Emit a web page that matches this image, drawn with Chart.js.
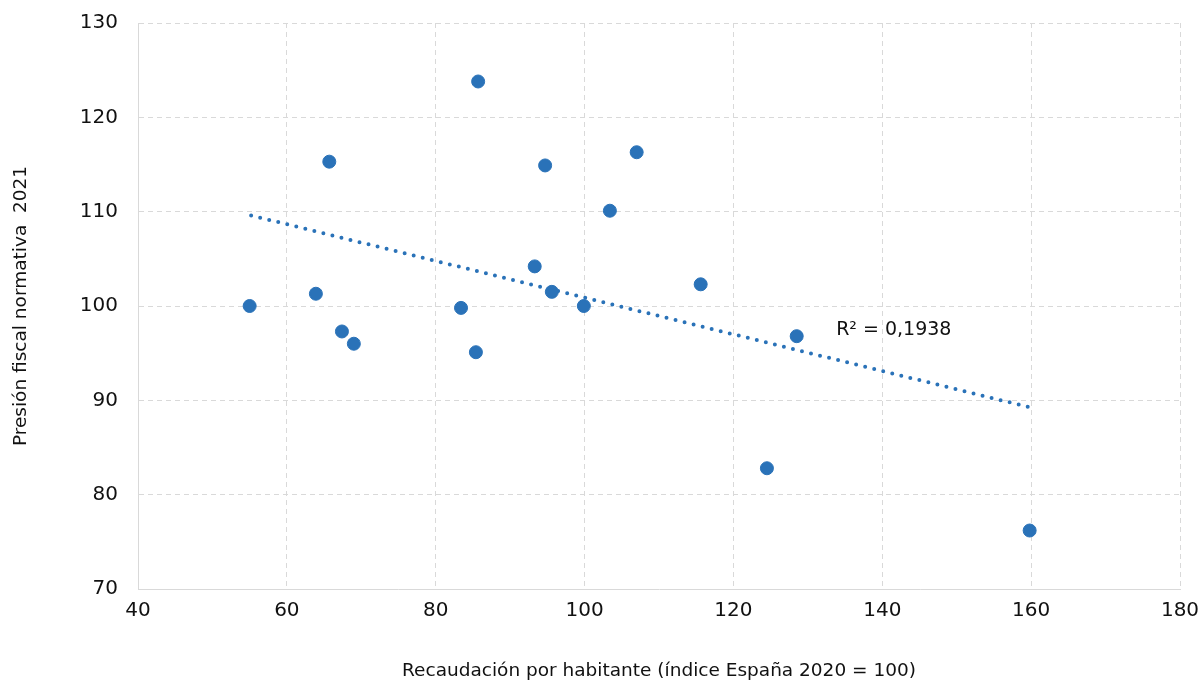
<!DOCTYPE html>
<html>
<head>
<meta charset="utf-8">
<script src="https://cdn.jsdelivr.net/npm/chart.js@4.4.1/dist/chart.umd.min.js"></script>
<style>
  html, body { margin: 0; padding: 0; background: #fff; }
  #wrap { width: 1201px; height: 682px; }
</style>
</head>
<body>
<div id="wrap"><canvas id="c" width="1201" height="682"></canvas></div>
<script>
// Recaudación por habitante (x) vs presión fiscal normativa (y)
const recaudacion = [55.0, 63.9, 65.7, 67.4, 69.0, 83.4, 85.4, 85.7, 93.3, 94.7, 95.6, 99.9, 103.4, 107.0, 115.6, 124.5, 128.5, 159.8];
const presion = [100.0, 101.3, 115.3, 97.3, 96.0, 99.8, 95.1, 123.8, 104.2, 114.9, 101.5, 100.0, 110.1, 116.3, 102.3, 82.8, 96.8, 76.2];

// trend line end points
const trendX = [55.2, 159.6];
const trendY = [109.6, 89.3];
const r2Label = 'R² = 0,1938';

const xTicks = [40, 60, 80, 100, 120, 140, 160, 180];
const yTicks = [70, 80, 90, 100, 110, 120, 130];

const blue = '#2a72b8';
const gridColor = '#d9d9d9';
const font = "'DejaVu Sans', sans-serif";

const r2Plugin = {
  id: 'r2',
  afterDatasetsDraw(chart) {
    const { ctx, scales } = chart;
    ctx.save();
    ctx.fillStyle = '#111';
    ctx.font = '19px ' + font;
    ctx.textBaseline = 'middle';
    ctx.fillText(r2Label, scales.x.getPixelForValue(133.8), scales.y.getPixelForValue(97.4));
    ctx.restore();
  }
};

new Chart(document.getElementById('c'), {
  type: 'scatter',
  data: {
    datasets: [
      {
        label: 'Comunidades',
        data: recaudacion.map((x, i) => ({ x, y: presion[i] })),
        backgroundColor: blue,
        borderColor: blue,
        pointRadius: 6.5,
        pointHoverRadius: 6.5,
        order: 1,
      },
      {
        label: 'Tendencia',
        type: 'line',
        data: trendX.map((x, i) => ({ x, y: trendY[i] })),
        borderColor: blue,
        borderWidth: 4,
        borderDash: [0, 9.3],
        borderCapStyle: 'round',
        pointRadius: 0,
        fill: false,
        order: 2,
      },
    ],
  },
  options: {
    responsive: false,
    animation: false,
    layout: { padding: { left: 0, right: 21, top: 23, bottom: 0 } },
    plugins: {
      legend: { display: false },
      tooltip: { enabled: false },
    },
    scales: {
      x: {
        type: 'linear',
        min: 40,
        max: 180,
        afterBuildTicks: s => { s.ticks = xTicks.map(v => ({ value: v })); },
        afterFit: s => { s.height = 93; s.paddingLeft = 0; s.paddingRight = 0; },
        grid: { color: gridColor, drawTicks: false, lineWidth: 1 },
        border: { display: true, color: gridColor, dash: [5, 4] },
        ticks: { color: '#111', font: { family: font, size: 20 }, padding: 10 },
        title: {
          display: true,
          text: 'Recaudación por habitante (índice España 2020 = 100)',
          color: '#111',
          font: { family: font, size: 18.5 },
          padding: { top: 34, bottom: 0 },
        },
      },
      y: {
        type: 'linear',
        min: 70,
        max: 130,
        afterBuildTicks: s => { s.ticks = yTicks.map(v => ({ value: v })); },
        afterFit: s => { s.width = 138; s.paddingTop = 0; s.paddingBottom = 0; },
        grid: { color: gridColor, drawTicks: false, lineWidth: 1 },
        border: { display: true, color: gridColor, dash: [5, 4] },
        ticks: { color: '#111', font: { family: font, size: 20 }, padding: 20 },
        title: {
          display: true,
          text: 'Presión fiscal normativa  2021',
          color: '#111',
          font: { family: font, size: 18.5 },
          padding: { top: 10, bottom: 40 },
        },
      },
    },
  },
  plugins: [r2Plugin],
});
</script>
</body>
</html>
